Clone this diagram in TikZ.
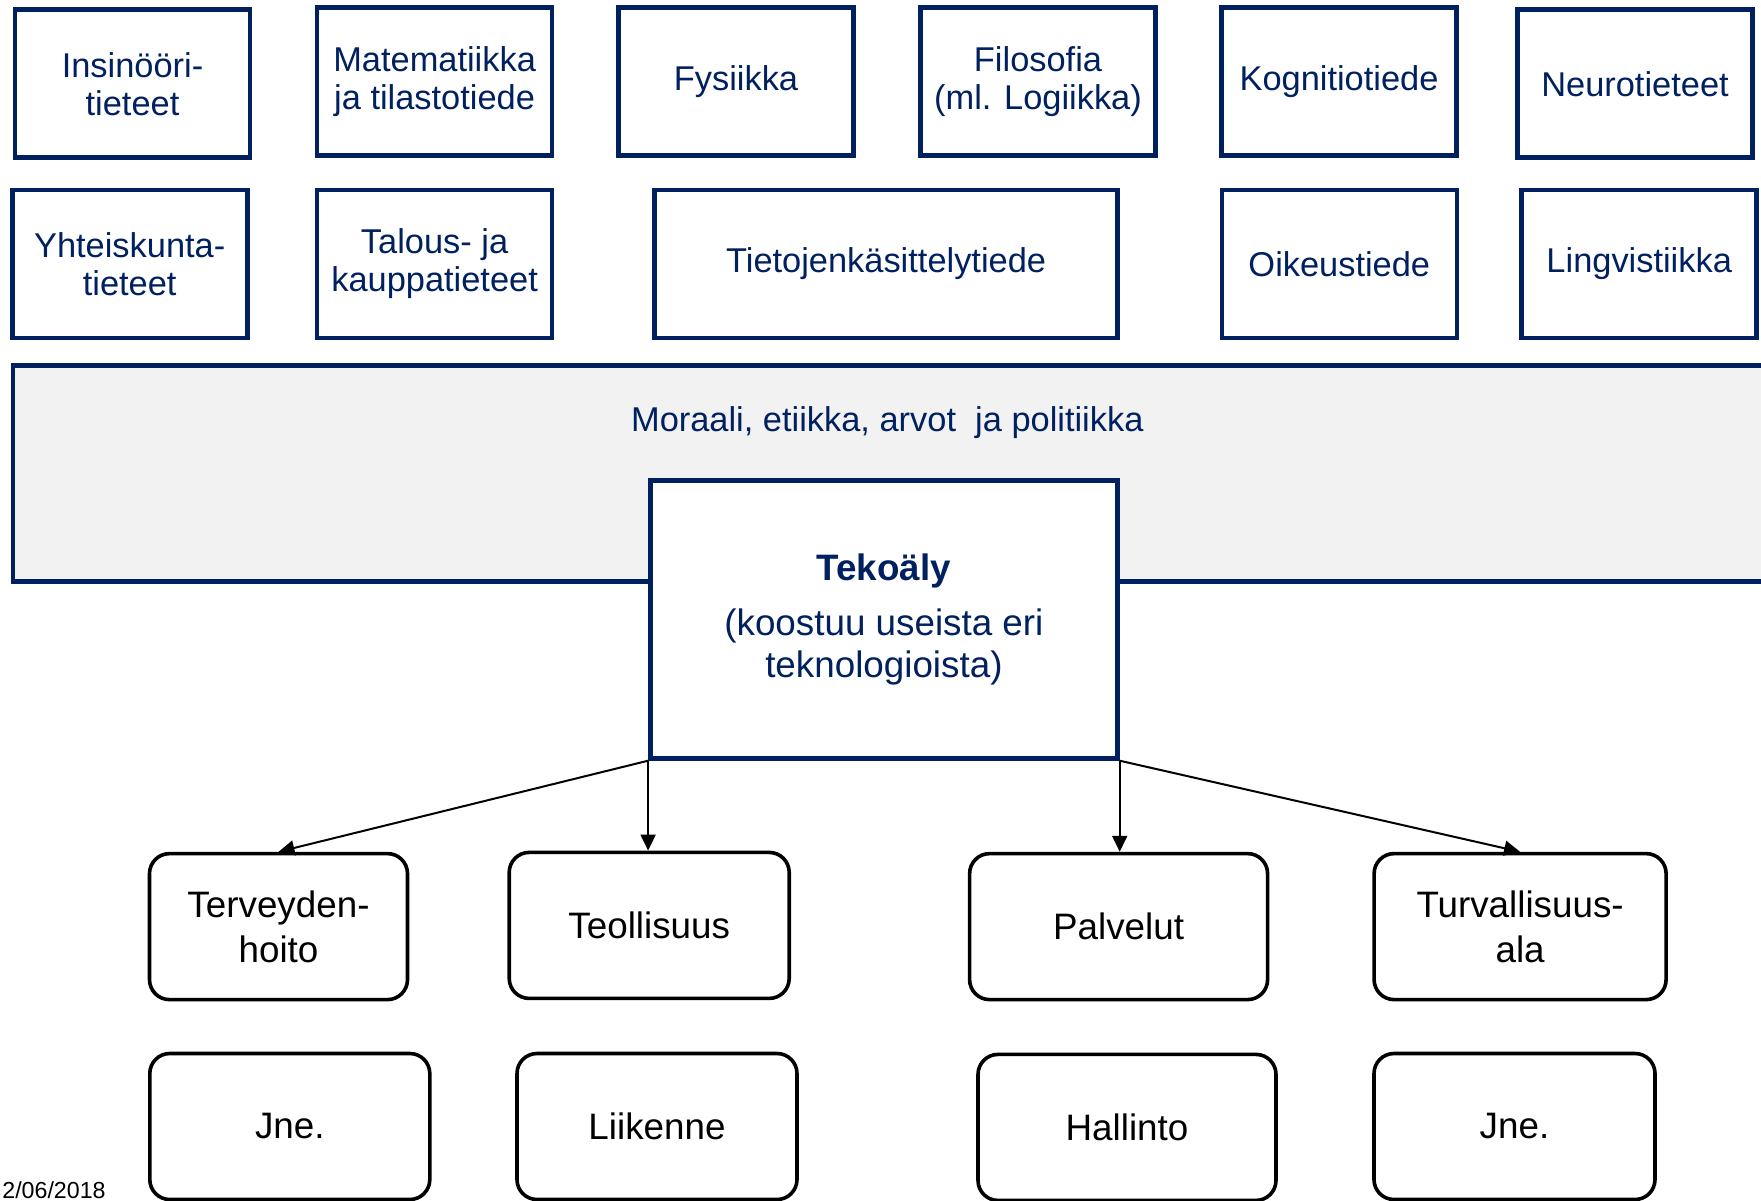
\documentclass[tikz,border=0pt]{standalone}
\usepackage{fontspec}
\setmainfont{Liberation Sans}
\usetikzlibrary{arrows.meta}
\definecolor{navy}{RGB}{0,32,96}
\definecolor{bandgrey}{RGB}{242,242,242}

\begin{document}
\begin{tikzpicture}[x=0.5pt,y=-0.5pt,
	field/.style={draw=navy,line width=2.3pt,text=navy,align=center,inner sep=0pt,
		font=\fontsize{17.2}{19}\selectfont,minimum width=117.5pt,minimum height=74pt},
	sector/.style={draw=black,line width=1.8pt,rounded corners=10pt,align=center,inner sep=0pt,
		font=\fontsize{18.4}{22.5}\selectfont,minimum height=73pt},
	link/.style={line width=1pt,-{Triangle[length=8pt,width=7.5pt]}}]
	\useasboundingbox (0,0) rectangle (1761,1200);
	% tieteenalat
	\node[field] (insinoori) at (132.5,83.7) {Insinööri-\\tieteet};
	\node[field] (matematiikka) at (434.6,81.4) {Matematiikka\\ja tilastotiede};
	\node[field] (fysiikka) at (736,81.4) {Fysiikka};
	\node[field] (filosofia) at (1038,81.4) {Filosofia\\(ml. Logiikka)};
	\node[field] (kognitio) at (1339,81.4) {Kognitiotiede};
	\node[field] (neuro) at (1635,83.7) {Neurotieteet};
	\node[field] (yhteiskunta) at (129.7,264) {Yhteiskunta-\\tieteet};
	\node[field] (talous) at (434.6,264) {Talous- ja\\kauppatieteet};
	\node[field,minimum width=231.5pt] (tietojenk) at (886.1,264) {Tietojenkäsittelytiede};
	\node[field] (oikeus) at (1339.3,264) {Oikeustiede};
	\node[field] (lingvistiikka) at (1639.2,264) {Lingvistiikka};
	% etiikka
	\node[draw=navy,fill=bandgrey,line width=2.3pt,inner sep=0pt,
		minimum width=888pt,minimum height=108pt] (etiikka) at (901,473.4) {};
	\node[text=navy,font=\fontsize{17.2}{19}\selectfont] (moraali) at (887.3,422.3)
		{Moraali, etiikka, arvot\ \ ja politiikka};
	\node[field,fill=white,minimum width=233.5pt,minimum height=139pt,
		font=\fontsize{18.4}{20.8}\selectfont] (tekoaly) at (883.9,619.4)
		{\textbf{Tekoäly}\\[7pt](koostuu useista eri\\teknologioista)};
	% sovellusalat
	\node[sector,minimum width=129pt] (terveys) at (278.5,926.6) {Terveyden-\\hoito};
	\node[sector,minimum width=140pt] (teollisuus) at (649.2,925.4) {Teollisuus};
	\node[sector,minimum width=149pt] (palvelut) at (1118.6,926.6) {Palvelut};
	\node[sector,minimum width=146pt] (turvallisuus) at (1520.1,926.6) {Turvallisuus-\\ala};
	\node[sector,minimum width=140pt] (jne) at (289.8,1126.5) {Jne.};
	\node[sector,minimum width=140pt] (liikenne) at (657,1126.5) {Liikenne};
	\node[sector,minimum width=149pt] (hallinto) at (1127,1127.4) {Hallinto};
	\node[sector,minimum width=140.5pt] (jne2) at (1514.5,1126.5) {Jne.};
	\draw[link] (tekoaly.south west) -- (terveys.north);
	\draw[link] (tekoaly.south west) -- (tekoaly.south west |- teollisuus.north);
	\draw[link] (tekoaly.south east) -- (tekoaly.south east |- palvelut.north);
	\draw[link] (tekoaly.south east) -- (turvallisuus.north);
	\node[anchor=base west,inner sep=0pt,font=\fontsize{11.6}{13}\selectfont] (pvm) at (2,1198) {2/06/2018};
\end{tikzpicture}
\end{document}
